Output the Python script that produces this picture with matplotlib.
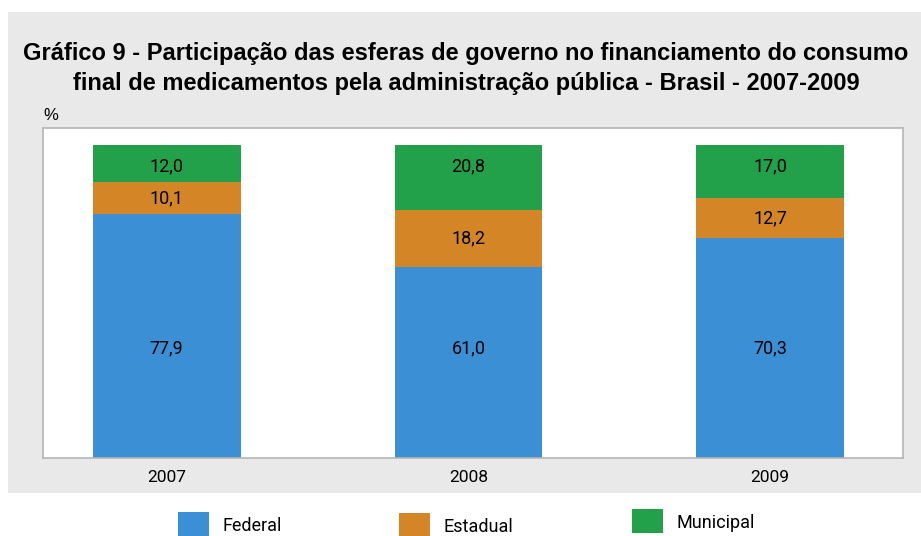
import numpy as np
import matplotlib.pyplot as plt
from matplotlib.patches import Rectangle

anos = ["2007", "2008", "2009"]
federal = [77.9, 61.0, 70.3]
estadual = [10.1, 18.2, 12.7]
municipal = [12.0, 20.8, 17.0]

rotulos = ["Federal", "Estadual", "Municipal"]
cores = ["#3b8fd4", "#d48526", "#23a04a"]

titulo = ("Gráfico 9 - Participação das esferas de governo no financiamento do consumo\n"
          "final de medicamentos pela administração pública - Brasil - 2007-2009")

fig = plt.figure(figsize=(9.21, 5.36), dpi=100)
fig.patches.append(Rectangle((8 / 921, 1 - 493 / 536), 913 / 921, 481 / 536,
                             transform=fig.transFigure, facecolor="#e9e9e9",
                             edgecolor="none", zorder=-5))

fig.text(0.506, 1 - 68.5 / 536, titulo, ha="center", va="center", fontsize=17,
         fontweight="bold", family="Liberation Sans", linespacing=1.43)
fig.text(43 / 921, 1 - 115 / 536, "%", ha="left", va="center", fontsize=12,
         family="Liberation Sans")

ax = fig.add_axes([43 / 921, 1 - 458 / 536, 860 / 921, 330 / 536])
ax.set_facecolor("white")
x = np.arange(len(anos))
larg = 0.49
ax.bar(x, federal, larg, color=cores[0], zorder=2)
ax.bar(x, estadual, larg, bottom=federal, color=cores[1], zorder=2)
base3 = np.array(federal) + np.array(estadual)
ax.bar(x, municipal, larg, bottom=base3, color=cores[2], zorder=2)

for i in range(len(anos)):
    ax.text(x[i], 35.1, f"{federal[i]:.1f}".replace(".", ","), ha="center",
            va="center", fontsize=13, family="Roboto", zorder=3)
    ax.text(x[i], federal[i] + estadual[i] / 2, f"{estadual[i]:.1f}".replace(".", ","),
            ha="center", va="center", fontsize=13, family="Roboto", zorder=3)
    ax.text(x[i], 93.3, f"{municipal[i]:.1f}".replace(".", ","), ha="center",
            va="center", fontsize=13, family="Roboto", zorder=3)

ax.set_xlim(-0.41, 2.44)
ax.set_ylim(0, 105.4)
ax.set_yticks([])
ax.set_xticks(x)
ax.set_xticklabels(anos, fontsize=12.5, family="Roboto")
ax.tick_params(axis="x", length=0, pad=9)
for s in ax.spines.values():
    s.set_color("#b5b5b5")
    s.set_linewidth(1.2)

# legenda montada à mão, como no original
leg_x = [178, 399, 632]
leg_y = [524, 525, 521]
for i in range(3):
    fig.patches.append(Rectangle((leg_x[i] / 921, 1 - (leg_y[i] + 12) / 536), 31 / 921, 24 / 536,
                                 transform=fig.transFigure, facecolor=cores[i],
                                 edgecolor="none"))
    fig.text((leg_x[i] + 44) / 921, 1 - (leg_y[i] + 2) / 536, rotulos[i], ha="left",
             va="center", fontsize=13, family="Roboto")

fig.savefig("out.png", dpi=100, facecolor="white")
